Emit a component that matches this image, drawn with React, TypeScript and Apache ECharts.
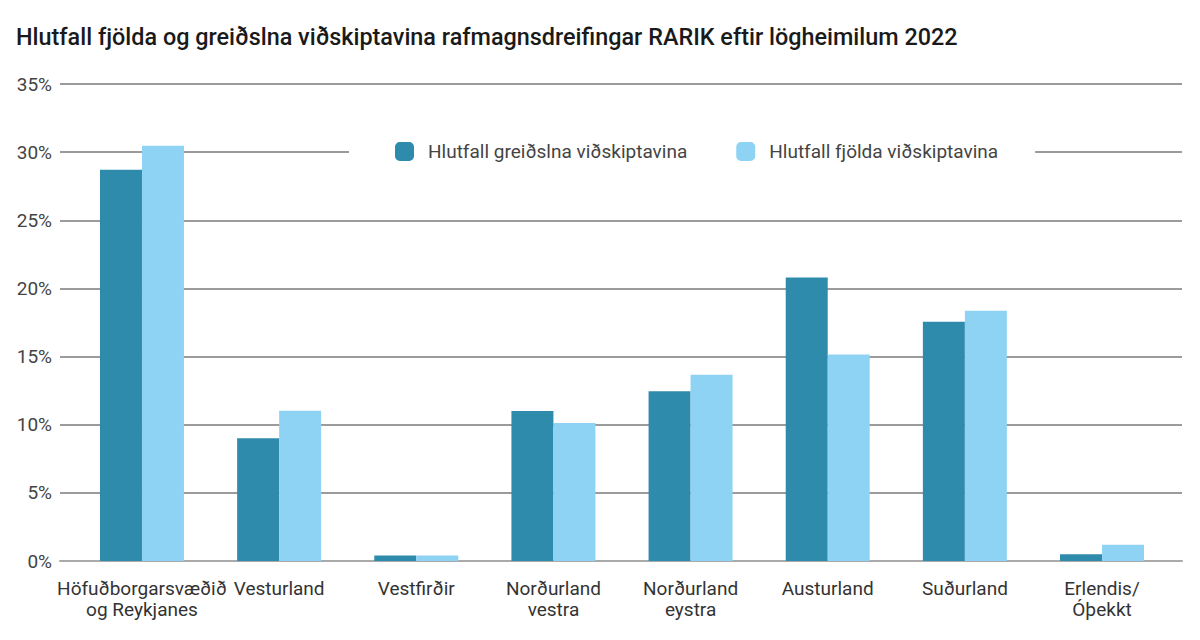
import React, { useEffect, useRef } from "react";
import * as echarts from "echarts";

const TITLE = "Hlutfall fjölda og greiðslna viðskiptavina rafmagnsdreifingar RARIK eftir lögheimilum 2022";
const categories = [
  "Höfuðborgarsvæðið\nog Reykjanes",
  "Vesturland",
  "Vestfirðir",
  "Norðurland\nvestra",
  "Norðurland\neystra",
  "Austurland",
  "Suðurland",
  "Erlendis/\nÓþekkt",
];
const seriesNames = ["Hlutfall greiðslna viðskiptavina", "Hlutfall fjölda viðskiptavina"];
const greidslur = [28.7, 9.0, 0.4, 11.0, 12.45, 20.8, 17.56, 0.5];
const fjoldi = [30.47, 11.03, 0.4, 10.12, 13.67, 15.16, 18.37, 1.2];
const yTicks = { min: 0, max: 35, interval: 5 };

const DARK = "#2e8bab";
const LIGHT = "#8fd3f4";
const FONT = "Roboto, 'Noto Sans', sans-serif";

export default function App() {
  const ref = useRef<HTMLDivElement>(null);
  useEffect(() => {
    if (!ref.current) return;
    const chart = echarts.init(ref.current, null, { renderer: "svg" });
    chart.setOption({
      animation: false,
      backgroundColor: "#ffffff",
      textStyle: { fontFamily: FONT },
      title: {
        text: TITLE,
        left: 16,
        top: 25,
        padding: 0,
        textStyle: { fontFamily: FONT, fontSize: 23.4, fontWeight: 500, color: "#1a1a1a" },
      },
      legend: {
        data: seriesNames,
        top: 138,
        left: 349,
        backgroundColor: "#ffffff",
        padding: [4, 37, 4, 46],
        itemWidth: 19,
        itemHeight: 19,
        itemGap: 49,
        textStyle: { fontFamily: FONT, fontSize: 19, color: "#444", padding: [0, 0, 0, 9] },
      },
      grid: [
        { left: 60, right: 18, top: 84, bottom: 79 },
        { left: 73.4, right: 29.4, top: 84, bottom: 79 },
      ],
      xAxis: [
        {
          type: "category",
          gridIndex: 0,
          data: categories,
          axisLine: { show: true, lineStyle: { color: "#aaaaaa", width: 2 } },
          axisTick: { show: false },
          axisLabel: { show: false },
          splitLine: { show: false },
        },
        {
          type: "category",
          gridIndex: 1,
          data: categories,
          axisLine: { show: false },
          axisTick: { show: false },
          axisLabel: {
            fontFamily: FONT,
            fontSize: 19,
            color: "#333",
            margin: 17,
            lineHeight: 21,
            interval: 0,
          },
        },
      ],
      yAxis: [
        {
          type: "value",
          gridIndex: 0,
          ...yTicks,
          axisLine: { show: false },
          axisTick: { show: false },
          axisLabel: {
            formatter: "{value}%",
            fontFamily: FONT,
            fontSize: 19,
            color: "#444",
            margin: 8,
          },
          splitLine: { lineStyle: { color: "#7a7a7a", width: 1.5 } },
        },
        {
          type: "value",
          gridIndex: 1,
          ...yTicks,
          axisLine: { show: false },
          axisTick: { show: false },
          axisLabel: { show: false },
          splitLine: { show: false },
        },
      ],
      series: [
        {
          name: seriesNames[0],
          type: "bar",
          xAxisIndex: 1,
          yAxisIndex: 1,
          data: greidslur,
          barWidth: 42,
          barGap: "0%",
          itemStyle: { color: DARK },
          z: 3,
        },
        {
          name: seriesNames[1],
          type: "bar",
          xAxisIndex: 1,
          yAxisIndex: 1,
          data: fjoldi,
          barWidth: 42,
          barGap: "0%",
          itemStyle: { color: LIGHT },
          z: 3,
        },
      ],
    });
    return () => chart.dispose();
  }, []);
  return (
    <div
      ref={ref}
      style={{ position: "fixed", left: 0, top: 0, width: 1200, height: 640 }}
    />
  );
}
